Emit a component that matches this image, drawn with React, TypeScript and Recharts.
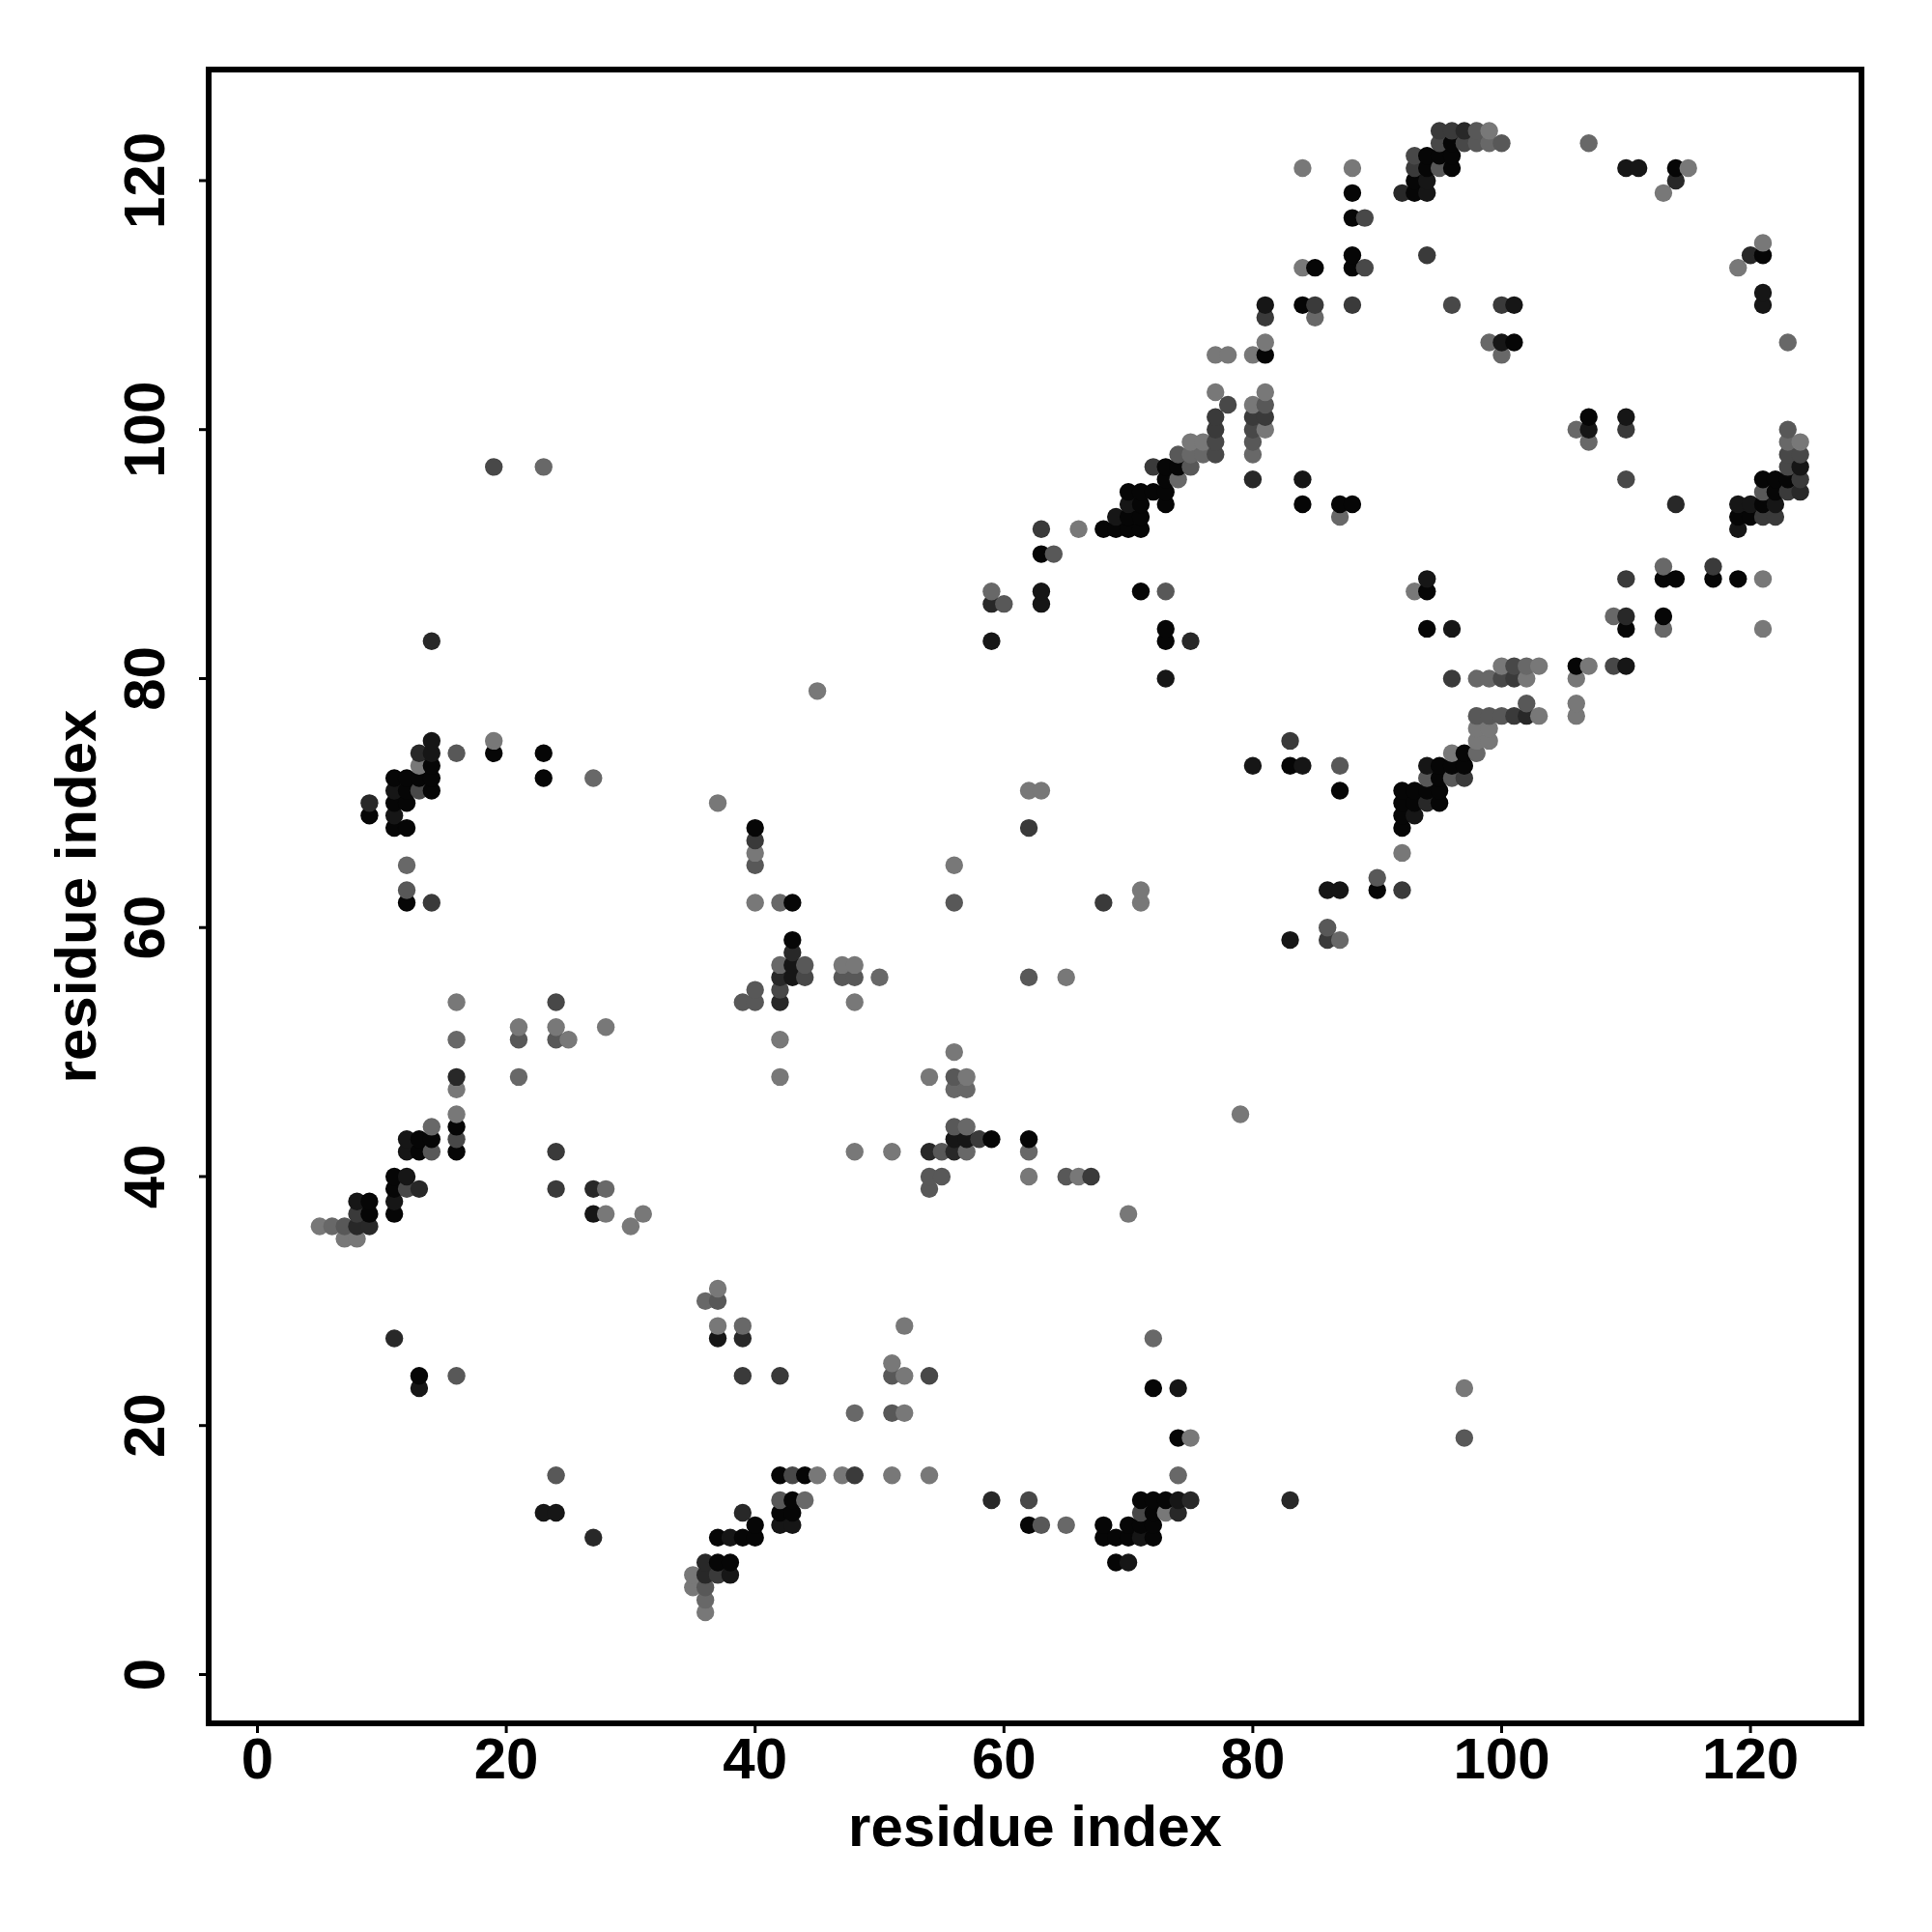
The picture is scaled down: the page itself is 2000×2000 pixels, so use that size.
import { Label, ReferenceArea, Scatter, ScatterChart, XAxis, YAxis } from "recharts"

// contacts [i, j], one list per grey level (0 = darkest)
const shade0 = [
  [96,123],[94,122],[95,122],[96,122],[94,121],[96,121],[93,120],[93,119],[88,119],[88,117],[88,114],[85,113],[88,113],
  [84,110],[81,106],[101,107],[73,97],[74,97],[73,96],[70,95],[71,95],[72,95],[73,95],[71,94],[73,94],[84,94],[87,94],
  [88,94],[70,93],[71,93],[68,92],[69,92],[70,92],[71,92],[114,121],[121,114],[107,101],[122,96],[121,96],[123,96],
  [122,95],[121,94],[119,93],[120,93],[94,87],[113,88],[114,88],[117,88],[119,88],[94,84],[110,84],[113,85],[106,81],
  [83,73],[95,73],[96,73],[97,74],[97,73],[95,72],[87,71],[92,71],[93,71],[94,71],[95,71],[92,70],[93,70],[95,70],
  [92,69],[92,68],[90,63],[40,68],[43,62],[43,59],[59,43],[62,43],[19,74],[23,74],[14,73],[11,72],[12,72],[13,72],
  [14,72],[23,72],[12,71],[14,71],[11,70],[12,70],[9,69],[11,68],[12,68],[12,62],[16,44],[13,43],[14,43],[13,42],
  [16,42],[11,40],[11,39],[9,38],[9,37],[11,37],[42,16],[44,16],[43,14],[42,13],[43,13],[40,12],[62,12],[37,11],
  [39,11],[40,11],[37,9],[38,9],[72,23],[74,19],[71,14],[72,14],[73,14],[72,13],[68,12],[70,12],[71,12],[72,12],
  [68,11],[69,11],[70,11],[72,11],[69,9],[63,90],[71,87],[73,84],[73,83],[13,24],
]
const shade1 = [
  [94,120],[94,119],[81,110],[101,110],[84,96],[70,94],[69,93],[110,121],[111,121],[100,107],[121,111],[121,110],
  [110,101],[107,100],[119,94],[120,94],[122,94],[124,97],[119,92],[94,88],[96,84],[110,81],[80,73],[84,73],[94,73],
  [93,69],[87,63],[86,63],[83,59],[43,57],[43,56],[56,43],[57,43],[14,75],[14,74],[11,71],[11,69],[12,43],[12,42],
  [12,40],[8,38],[11,38],[27,37],[37,27],[38,11],[38,8],[42,12],[43,12],[74,23],[74,14],[71,11],[70,9],[59,83],
  [63,87],[63,86],[73,80],[13,23],[23,13],[24,13],
]
const shade2 = [
  [92,119],[97,124],[80,96],[114,120],[120,114],[114,94],[124,95],[110,85],[94,70],[42,56],[42,54],[43,58],[14,83],
  [13,74],[9,70],[16,48],[13,39],[8,36],[9,36],[39,13],[39,27],[36,9],[36,8],[59,14],[75,14],[74,13],[83,14],[54,42],
  [56,42],[27,39],[102,77],[59,86],[75,83],[11,27],[27,11],
]
const shade3 = [
  [95,124],[96,124],[93,121],[94,114],[81,109],[85,110],[88,110],[100,110],[81,101],[80,101],[77,101],[72,97],[77,100],
  [124,96],[123,95],[121,93],[122,93],[110,100],[110,88],[117,89],[83,75],[96,80],[101,80],[101,77],[97,72],[92,63],
  [86,59],[40,67],[62,68],[68,62],[58,43],[67,40],[14,62],[8,37],[24,42],[24,39],[37,8],[39,24],[42,24],[48,16],[63,92],
]
const shade4 = [
  [93,122],[95,123],[97,123],[96,110],[89,117],[89,113],[78,102],[77,99],[77,98],[80,100],[123,98],[124,98],[123,97],
  [110,96],[100,80],[109,81],[101,81],[44,56],[42,55],[19,97],[24,54],[12,39],[16,43],[43,16],[54,24],[71,13],[62,14],
  [13,71],
]
const shade5 = [
  [98,124],[98,123],[100,123],[95,121],[81,102],[80,99],[75,97],[74,98],[123,100],[121,95],[102,78],[98,77],[99,77],
  [100,77],[87,73],[94,72],[96,72],[90,64],[86,60],[40,65],[39,54],[40,54],[40,55],[56,62],[44,57],[47,56],[48,56],
  [62,56],[56,48],[56,44],[55,42],[54,40],[55,40],[65,40],[54,39],[16,74],[12,63],[14,42],[21,51],[24,51],[7,36],[42,14],
  [37,30],[36,7],[51,24],[51,21],[63,12],[60,86],[64,90],[73,87],[16,24],[24,16],[97,19],
]
const shade6 = [
  [99,123],[85,109],[100,106],[99,107],[80,98],[75,98],[76,98],[74,96],[87,93],[107,123],[123,107],[106,100],[107,99],
  [123,99],[113,89],[109,85],[113,84],[98,80],[99,80],[102,81],[98,74],[42,57],[42,62],[50,56],[56,47],[57,47],[57,44],
  [57,42],[62,42],[23,97],[27,72],[12,65],[14,44],[16,51],[21,48],[28,39],[6,36],[36,30],[39,28],[36,6],[48,21],[72,27],
  [74,16],[65,12],[44,14],[59,87],[87,59],
]
const shade7 = [
  [99,124],[84,121],[88,121],[84,113],[81,107],[77,106],[78,106],[80,106],[77,103],[81,103],[80,102],[81,100],[75,99],
  [76,99],[66,92],[115,121],[113,119],[121,115],[119,113],[124,99],[121,88],[93,87],[121,84],[100,81],[103,81],[107,81],
  [102,80],[106,80],[106,78],[103,77],[106,77],[98,76],[99,76],[98,75],[99,75],[96,74],[92,66],[37,70],[40,66],[40,62],
  [47,57],[48,57],[48,54],[42,51],[42,48],[54,48],[56,50],[56,65],[57,48],[45,79],[79,45],[62,71],[63,71],[71,63],[71,62],
  [65,56],[48,42],[51,42],[62,40],[66,40],[70,37],[19,75],[13,73],[16,54],[21,52],[24,52],[28,52],[25,51],[16,47],[16,45],
  [28,37],[31,37],[30,36],[5,36],[7,35],[8,35],[37,31],[37,28],[52,28],[51,25],[52,24],[52,21],[45,16],[47,16],[51,16],
  [54,16],[35,8],[35,7],[36,5],[75,19],[73,13],[97,23],
]

const shades = [shade0, shade1, shade2, shade3, shade4, shade5, shade6, shade7]
const greys = ["#060606", "#161616", "#282828", "#3a3a3a", "#484848", "#585858", "#686868", "#787878"]
const tickValues = [0, 20, 40, 60, 80, 100, 120]
const domain = [-3.92, 128.92]
const axisTitle = "residue index"

// drawn by i then j, later points sit on top of earlier ones
const contacts = shades
  .flatMap((list, level) => list.map(([i, j]) => ({ i, j, level })))
  .sort((a, b) => a.i - b.i || a.j - b.j)

const font = "'Liberation Sans', Arial, sans-serif"

function RotatedTick({ x, y, payload }: any) {
  return (
    <text
      x={x}
      y={y}
      transform={`rotate(-90 ${x} ${y})`}
      textAnchor="middle"
      fontFamily={font}
      fontWeight="bold"
      fontSize={60}
      fill="#000"
    >
      {payload.value}
    </text>
  )
}

function Dot({ cx, cy, payload }: any) {
  return <circle cx={cx} cy={cy} r={9.2} fill={greys[payload.level]} />
}

export default function App() {
  return (
    <div style={{ position: "absolute", left: 0, top: 0, width: 2000, height: 2000, background: "#fff" }}>
      <ScatterChart width={2000} height={2000} margin={{ top: 72, right: 73, bottom: 0, left: 0 }}>
        <XAxis
          type="number"
          dataKey="i"
          domain={domain}
          ticks={tickValues}
          allowDataOverflow
          height={216}
          axisLine={false}
          tickLine={{ stroke: "#000", strokeWidth: 3 }}
          tickSize={10}
          tickMargin={4}
          tick={{ fontFamily: font, fontWeight: "bold", fontSize: 60, fill: "#000" }}
        >
          <Label
            value={axisTitle}
            position="insideBottom"
            offset={89}
            style={{ fontFamily: font, fontWeight: "bold", fontSize: 60, fill: "#000" }}
          />
        </XAxis>
        <YAxis
          type="number"
          dataKey="j"
          domain={domain}
          ticks={tickValues}
          allowDataOverflow
          width={216}
          axisLine={false}
          tickLine={{ stroke: "#000", strokeWidth: 3 }}
          tickSize={10}
          tickMargin={36}
          tick={<RotatedTick />}
        >
          <Label
            value={axisTitle}
            position="insideLeft"
            angle={-90}
            offset={78}
            style={{ fontFamily: font, fontWeight: "bold", fontSize: 60, fill: "#000", textAnchor: "middle" }}
          />
        </YAxis>
        <Scatter data={contacts} isAnimationActive={false} shape={<Dot />} />
        <ReferenceArea
          x1={domain[0]}
          x2={domain[1]}
          y1={domain[0]}
          y2={domain[1]}
          fill="none"
          stroke="#000"
          strokeWidth={6}
          ifOverflow="visible"
        />
      </ScatterChart>
    </div>
  )
}
